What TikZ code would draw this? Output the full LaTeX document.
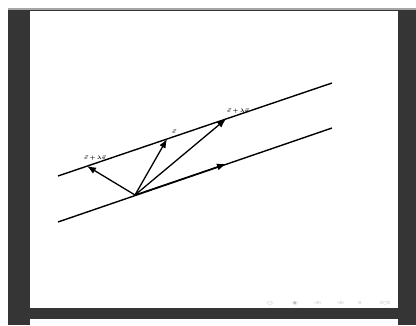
\documentclass[tikz,border=0pt]{standalone}
\usepackage{fontspec}
\newfontfamily\symf{DejaVu Sans}
\usetikzlibrary{arrows.meta}
\definecolor{darkbg}{HTML}{353535}
\tikzset{
  vline/.style={line width=1.4pt, black},
  vec/.style={line width=1.3pt, -{Latex[length=9pt,width=7pt]}},
  lbl/.style={font=\fontsize{5.5}{6}\selectfont\boldmath, inner sep=0.5pt},
  nav/.style={font=\symf\fontsize{4.5}{5}\selectfont, text=gray!55, inner sep=0pt}
}
\begin{document}
\begin{tikzpicture}[x=1pt,y=-1pt]
\useasboundingbox (0,0) rectangle (416,325);
\fill[white] (0,0) rectangle (416,325);
\fill[darkbg] (8,9) rectangle (416,325);
\fill[gray!70] (8,8) rectangle (416,10);
\fill[white] (30,10.5) rectangle (398,308);
\fill[white] (30,319) rectangle (398,325);
% lines
\coordinate (u1) at (58,176);
\coordinate (u2) at (332,83);
\coordinate (l1) at (58,222);
\coordinate (l2) at (332,128);
\draw[vline] (u1) -- (u2);
\draw[vline] (l1) -- (l2);
% vectors
\coordinate (o) at (135,195);
\coordinate (t1) at (87,166);
\coordinate (t2) at (167,139);
\coordinate (t3) at (226,119);
\coordinate (t4) at (226,164);
\draw[vec] (o) -- (t1);
\draw[vec] (o) -- (t2);
\draw[vec] (o) -- (t3);
\draw[vec] (o) -- (t4);
% labels
\node[lbl] (a) at (95,158) {$\vec{c}+\lambda\vec{v}$};
\node[lbl] (b) at (174,132) {$\vec{c}$};
\node[lbl] (c) at (238,111) {$\vec{c}+\lambda\vec{v}$};
% navigation symbols
\node[nav] (n1) at (270,303) {‹□›};
\node[nav] (n2) at (295,303) {‹▣›};
\node[nav] (n3) at (318,303) {‹≡›};
\node[nav] (n4) at (341,303) {‹≡›};
\node[nav] (n5) at (360,303) {≡};
\node[nav] (n6) at (385,303) {↺○↻};
\end{tikzpicture}
\end{document}
